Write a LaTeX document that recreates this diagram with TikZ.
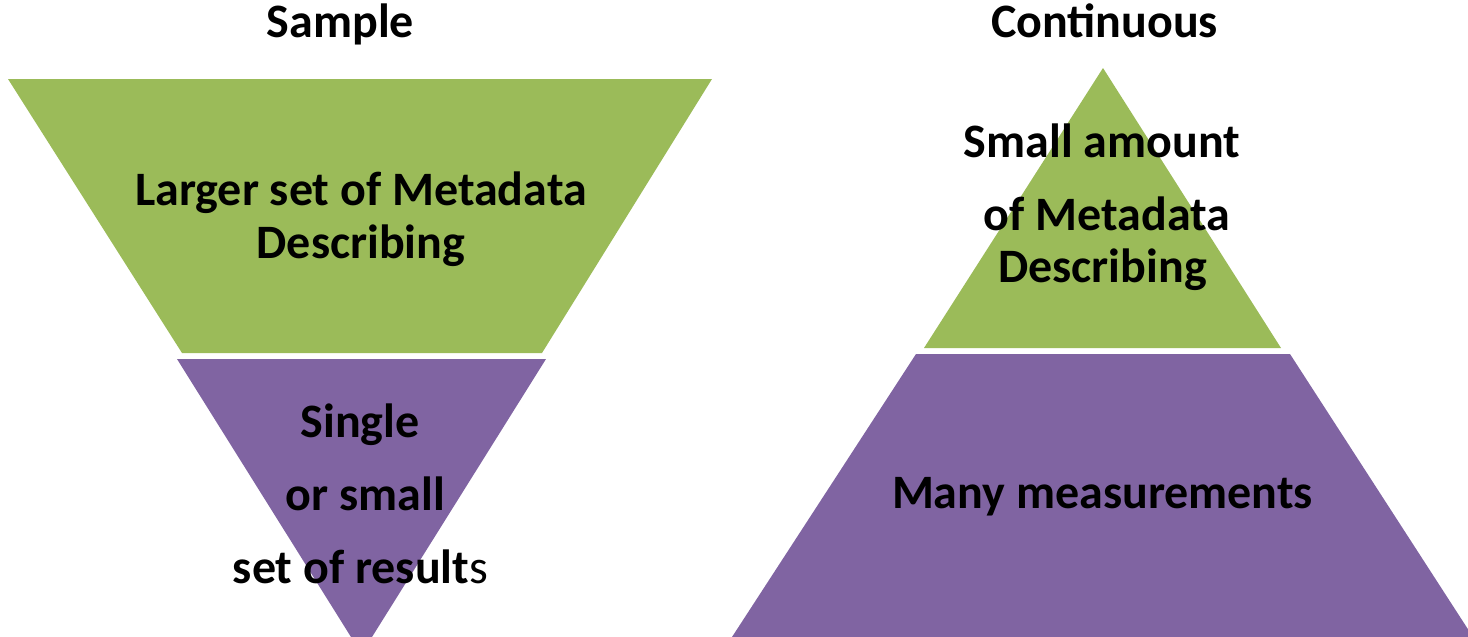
\documentclass[tikz,border=0pt]{standalone}
\usepackage{fontspec}
\setmainfont{Carlito}
\usetikzlibrary{positioning}
\definecolor{metagreen}{HTML}{9BBB59}
\definecolor{datapurple}{HTML}{8064A2}
\tikzset{lbl/.style={font=\fontsize{24}{28}\selectfont\bfseries,anchor=base,inner sep=0pt}}

\begin{document}
\begin{tikzpicture}[x=0.5pt,y=-0.5pt]
\useasboundingbox (0,0) rectangle (1468,637);
% sample: inverted funnel
\coordinate (A) at (8,79);
\coordinate (B) at (712,79);
\coordinate (C) at (542,353);
\coordinate (D) at (182,353);
\coordinate (E) at (177,359);
\coordinate (F) at (546,359);
\coordinate (G) at (372,637);
\coordinate (H) at (351,637);
\fill[metagreen] (A) -- (B) -- (C) -- (D) -- cycle;
\fill[datapurple] (E) -- (F) -- (G) -- (H) -- cycle;
\node[lbl] (sample) at (340.5,38) {Sample};
\node[lbl] (larger) at (361,205) {Larger set of Metadata};
\node[lbl] (descl) at (361,258) {Describing};
\node[lbl] (single) at (360,437) {Single};
\node[lbl] (orsmall) at (365.5,510) {or small};
\node[lbl] (results) at (360.5,583) {set of resul\textbf{t}{\mdseries s}};
% continuous: pyramid
\coordinate (P) at (1103,68);
\coordinate (Q) at (1281,348);
\coordinate (R) at (924,348);
\coordinate (S) at (916,354);
\coordinate (T) at (1290,354);
\coordinate (U) at (1473,637);
\coordinate (V) at (732,637);
\fill[metagreen] (P) -- (Q) -- (R) -- cycle;
\fill[datapurple] (S) -- (T) -- (U) -- (V) -- cycle;
\node[lbl] (cont) at (1104.5,37) {Continuous};
\node[lbl] (smallam) at (1102,157) {Small amount};
\node[lbl] (ofmeta) at (1107,230) {of Metadata};
\node[lbl] (descr) at (1102.5,282) {Describing};
\node[lbl] (many) at (1102.5,508) {Many measurements};
\end{tikzpicture}
\end{document}
